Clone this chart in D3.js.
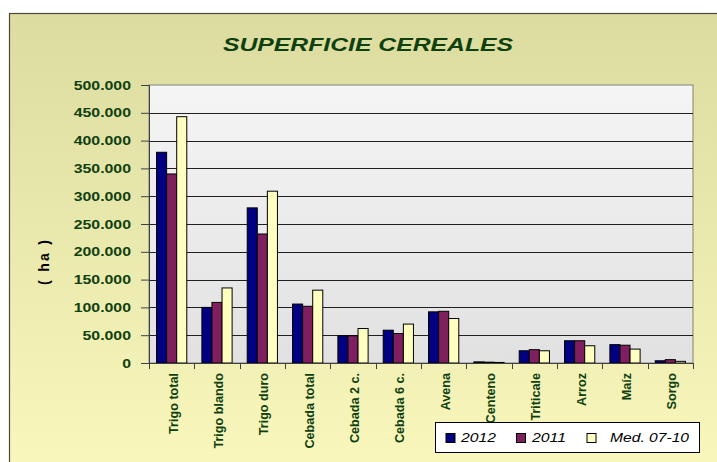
<!DOCTYPE html>
<html>
<head>
<meta charset="utf-8">
<script src="https://cdn.jsdelivr.net/npm/d3@7"></script>
<style>
  body { margin: 0; background: #fff; }
  text { font-family: "Liberation Sans", Arial, sans-serif; }
</style>
</head>
<body>
<div id="chart"></div>
<script>
// data (ha)
const categories = ["Trigo total", "Trigo blando", "Trigo duro", "Cebada total", "Cebada 2 c.",
  "Cebada 6 c.", "Avena", "Centeno", "Triticale", "Arroz", "Maíz", "Sorgo"];
const seriesNames = ["2012", "2011", "Med. 07-10"];
const v2012 = [379000, 100000, 279000, 106000, 49000, 59000, 92000, 2000, 22000, 40000, 33000, 4000];
const v2011 = [340000, 109000, 232000, 102000, 49000, 53000, 93000, 1500, 24000, 40000, 32000, 6000];
const vMed = [443000, 135000, 309000, 131000, 62000, 70000, 80000, 1000, 22000, 31000, 25000, 3000];
const yTicks = [0, 50000, 100000, 150000, 200000, 250000, 300000, 350000, 400000, 450000, 500000];

const colors = ["#000080", "#7f1f5f", "#ffffc0"];
const green = "#0f4010";

const W = 717, H = 462;
const plot = {left: 149, top: 85, right: 693, bottom: 363};

const svg = d3.select("#chart")
  .append("svg")
    .attr("width", W)
    .attr("height", H);

const defs = svg.append("defs");
const bgGrad = defs.append("linearGradient").attr("id", "bg").attr("x1", 0).attr("y1", 0).attr("x2", 0).attr("y2", 1);
bgGrad.append("stop").attr("offset", "0%").attr("stop-color", "#dcdca0");
bgGrad.append("stop").attr("offset", "100%").attr("stop-color", "#faf8bc");
const plotGrad = defs.append("linearGradient").attr("id", "pl").attr("x1", 0).attr("y1", 0).attr("x2", 0).attr("y2", 1);
plotGrad.append("stop").attr("offset", "0%").attr("stop-color", "#f5f5f5");
plotGrad.append("stop").attr("offset", "100%").attr("stop-color", "#e1e1e1");

// outer panel
svg.append("rect")
  .attr("x", 9.5).attr("y", 13.5)
  .attr("width", W + 10).attr("height", H + 10)
  .attr("fill", "url(#bg)")
  .attr("stroke", "#4a4a3a").attr("stroke-width", 1.2);

// title
svg.append("text")
  .attr("x", 223).attr("y", 51)
  .attr("textLength", 290).attr("lengthAdjust", "spacingAndGlyphs")
  .attr("font-size", 18.5).attr("font-weight", "bold").attr("font-style", "italic")
  .attr("fill", green)
  .text("SUPERFICIE CEREALES");

const x = d3.scaleBand()
  .domain(categories)
  .range([plot.left, plot.right])
  .paddingInner(0).paddingOuter(0);

const x1 = d3.scaleBand()
  .domain(seriesNames)
  .range([0, x.bandwidth()])
  .paddingOuter(0.75).paddingInner(0);

const y = d3.scaleLinear()
  .domain([0, 500000])
  .range([plot.bottom, plot.top]);

// plot area
svg.append("rect")
  .attr("x", plot.left).attr("y", plot.top)
  .attr("width", plot.right - plot.left).attr("height", plot.bottom - plot.top)
  .attr("fill", "url(#pl)")
  .attr("stroke", "#808080").attr("stroke-width", 1);

// gridlines
svg.append("g")
  .selectAll("line")
  .data(yTicks.slice(1, -1))
  .join("line")
    .attr("x1", plot.left).attr("x2", plot.right)
    .attr("y1", d => Math.round(y(d)) + 0.5).attr("y2", d => Math.round(y(d)) + 0.5)
    .attr("stroke", "#202020").attr("stroke-width", 1);

// bars
const table = categories.map((c, i) => ({cat: c, vals: [v2012[i], v2011[i], vMed[i]]}));
svg.append("g")
  .selectAll("g")
  .data(table)
  .join("g")
    .attr("transform", d => `translate(${x(d.cat)},0)`)
  .selectAll("rect")
  .data(d => d.vals.map((v, k) => ({name: seriesNames[k], v: v, k: k})))
  .join("rect")
    .attr("x", d => x1(d.name))
    .attr("y", d => y(d.v))
    .attr("width", x1.bandwidth())
    .attr("height", d => y(0) - y(d.v))
    .attr("fill", d => colors[d.k])
    .attr("stroke", "#000").attr("stroke-width", 1);

// y axis
const yAxis = svg.append("g")
  .attr("transform", `translate(${plot.left},0)`)
  .call(d3.axisLeft(y).tickValues(yTicks).tickSize(8).tickPadding(10)
    .tickFormat(d => d3.format(",")(d).replace(/,/g, ".")));
yAxis.select(".domain").attr("stroke", "#404040");
yAxis.selectAll(".tick line").attr("stroke", "#404040");
yAxis.selectAll("text")
  .attr("x", null)
  .attr("transform", "translate(-18,0) scale(1.27,1)")
  .attr("font-size", 12.5).attr("font-weight", "bold")
  .attr("fill", green);

// x axis with ticks at category boundaries
const xAxis = svg.append("g")
  .attr("transform", `translate(0,${plot.bottom})`);
xAxis.append("line")
  .attr("x1", plot.left).attr("x2", plot.right)
  .attr("y1", 0.5).attr("y2", 0.5)
  .attr("stroke", "#404040");
xAxis.selectAll("line.tk")
  .data(categories.concat(["end"]))
  .join("line")
    .attr("class", "tk")
    .attr("x1", (d, i) => Math.round(plot.left + i * x.step()) + 0.5)
    .attr("x2", (d, i) => Math.round(plot.left + i * x.step()) + 0.5)
    .attr("y1", 0).attr("y2", 6)
    .attr("stroke", "#404040");
xAxis.selectAll("text")
  .data(categories)
  .join("text")
    .attr("transform", d => `translate(${x(d) + x.bandwidth() / 2 + 6},10) rotate(-90)`)
    .attr("text-anchor", "end")
    .attr("font-size", 12.6).attr("font-weight", "bold")
    .attr("fill", green)
    .text(d => d);

// y axis title
svg.append("text")
  .attr("transform", "translate(49,240) rotate(-90)")
  .attr("text-anchor", "end")
  .attr("textLength", 45).attr("lengthAdjust", "spacing")
  .attr("font-size", 14).attr("font-weight", "bold")
  .attr("fill", "#000")
  .text("( ha )");

// legend
const lg = svg.append("g").attr("transform", "translate(435.5,422.5)");
lg.append("rect")
  .attr("width", 264).attr("height", 30)
  .attr("fill", "#fff").attr("stroke", "#000");
const swX = [10.5, 81, 151.5];
const txX = [25.5, 96.5, 174.5];
const txLen = [35, 34, 79];
const items = lg.selectAll("g")
  .data(seriesNames)
  .join("g");
items.append("rect")
  .attr("x", (d, i) => swX[i]).attr("y", 11)
  .attr("width", 9).attr("height", 9)
  .attr("fill", (d, i) => colors[i])
  .attr("stroke", "#000");
items.append("text")
  .attr("x", (d, i) => txX[i]).attr("y", 19.5)
  .attr("textLength", (d, i) => txLen[i]).attr("lengthAdjust", "spacingAndGlyphs")
  .attr("font-size", 12.5).attr("font-style", "italic")
  .attr("fill", "#000")
  .text(d => d);
</script>
</body>
</html>
